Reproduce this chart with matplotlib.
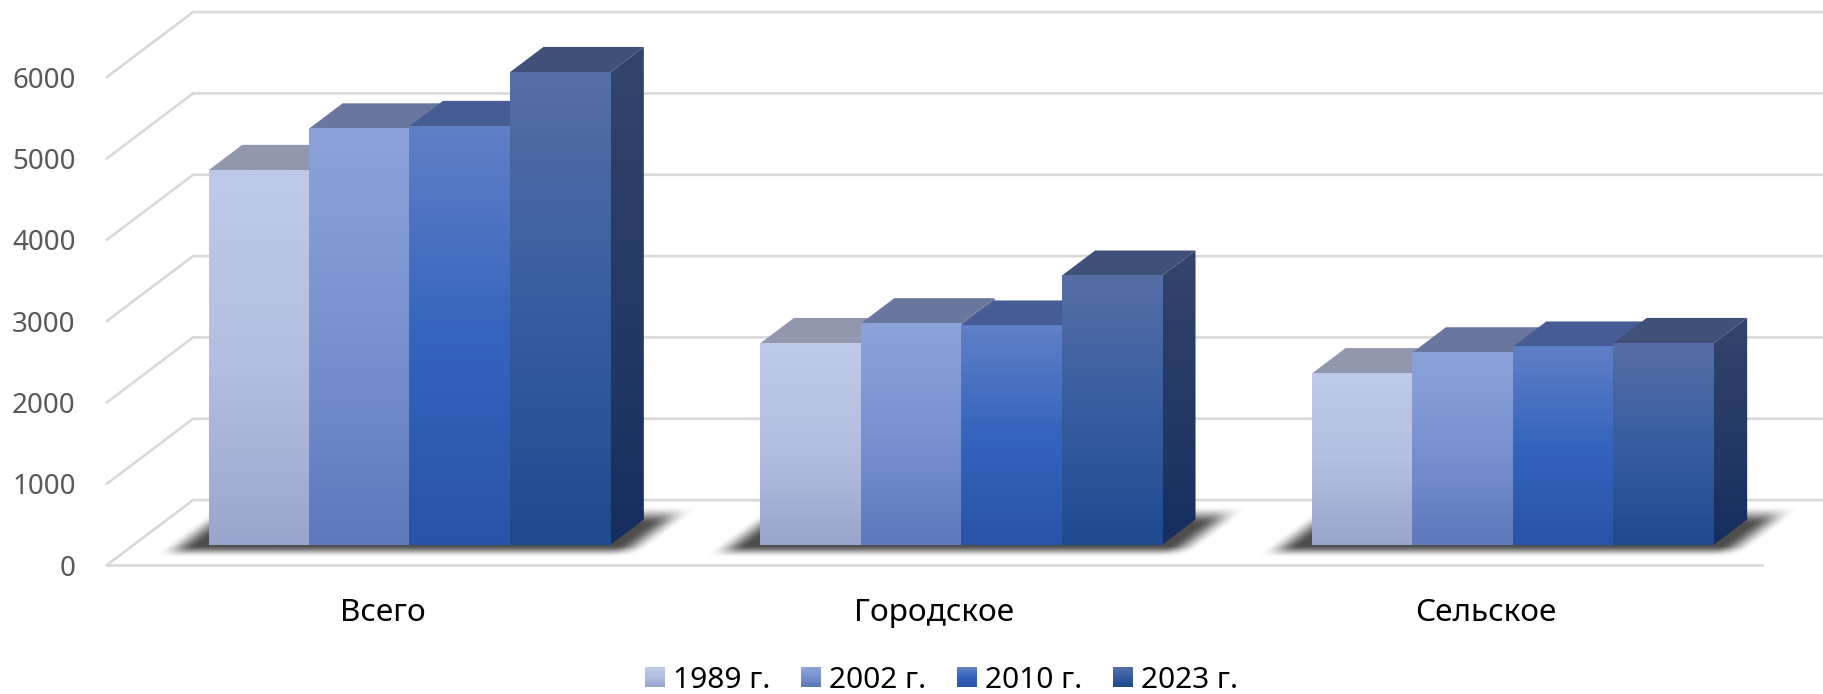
import numpy as np
import matplotlib
matplotlib.use("Agg")
import matplotlib.pyplot as plt
from matplotlib.colors import to_rgb, LinearSegmentedColormap
from matplotlib.legend_handler import HandlerBase
from matplotlib.patches import Polygon, Rectangle

plt.rcParams['font.family'] = ['Noto Sans', 'DejaVu Sans']

categories = ['Всего', 'Городское', 'Сельское']
years = ['1989 г.', '2002 г.', '2010 г.', '2023 г.']
val_1989 = [4607, 2479, 2108]
val_2002 = [5118, 2722, 2365]
val_2010 = [5148, 2694, 2436]
val_2023 = [5811, 3308, 2479]
series = [val_1989, val_2002, val_2010, val_2023]

# gradient stops of the front faces, top colour of the roof and of the side
front_cols = [['#bfcae8', '#b4bfe1', '#9aa5cd'],
              ['#8da2da', '#7892d0', '#5d78bb'],
              ['#6080c6', '#3564bd', '#2953a8'],
              ['#566ea6', '#365d9f', '#1f4a90']]
roof_cols = ['#9197ad', '#69779f', '#475c94', '#3f5079']
side_cols = [['#7a84a0', '#5f6a8c'], ['#5c6c96', '#3f4f7c'],
             ['#3c4f84', '#1f3a70'], ['#34456d', '#162e5f']]

# oblique projection, in data units
DX = 0.1559
DY = 798
D0 = 0.31
D1 = 0.70
BAR_W = 0.182

fig = plt.figure(figsize=(18.24, 6.94), dpi=100)
ax = fig.add_axes([107 / 1824, 1 - 565 / 694, 1655 / 1824, 488 / 694])
ax.set_xlim(-0.5, 2.5)
ax.set_ylim(0, 6000)
for s in ax.spines.values():
    s.set_visible(False)


def make_cmap(cols):
    return LinearSegmentedColormap.from_list('g', [to_rgb(c) for c in cols])


def grad(cols, extent, zorder):
    g = np.linspace(0, 1, 256).reshape(-1, 1)
    return ax.imshow(g, cmap=make_cmap(cols), extent=extent, aspect='auto',
                     origin='upper', zorder=zorder, clip_on=False,
                     interpolation='bilinear')


# walls and floor
grid_c = '#d9d9d9'
for v in range(0, 7000, 1000):
    ax.plot([-0.5, -0.5 + DX, 2.5 + DX], [v, v + DY, v + DY], color=grid_c,
            lw=1.9, clip_on=False, zorder=1, solid_joinstyle='miter')
ax.plot([-0.5, 2.5], [0, 0], color=grid_c, lw=1.9, clip_on=False, zorder=1)


def shadow(i):
    # soft shadow on the floor, worked out in pixels of the sheared footprint
    px_x = 1655 / 3
    px_y = 488 / 6000
    x0 = i + D0 * DX - 2 * BAR_W
    nx, ny = 600, 90
    xs = np.linspace(-80, 520, nx)
    ss = np.linspace(60, -30, ny)
    xx, yy = np.meshgrid(xs, ss)
    xsh = xx - 1.33 * yy

    def soft(a, w):
        t = np.clip(a / w, 0, 1)
        return t * t * (3 - 2 * t)

    alpha = soft(xsh + 44, 34) * soft(444 - xsh, 34) * soft(yy + 13, 13) * soft(40 - yy, 20)
    rgba = np.zeros((ny, nx, 4))
    rgba[..., 3] = alpha * 0.7
    ext = (x0 + xs[0] / px_x, x0 + xs[-1] / px_x,
           D0 * DY + ss[-1] / px_y, D0 * DY + ss[0] / px_y)
    ax.imshow(rgba, extent=ext, aspect='auto', origin='upper', zorder=2,
              clip_on=False, interpolation='bilinear')


zo = 3
for i in range(len(categories)):
    shadow(i)
    for j, vals in enumerate(series):
        v = vals[i]
        x0 = i + D0 * DX - 2 * BAR_W + j * BAR_W
        x1 = x0 + BAR_W
        y0 = D0 * DY
        y1 = y0 + v
        ox = (D1 - D0) * DX
        oy = (D1 - D0) * DY
        # side face
        side = Polygon([(x1, y0), (x1 + ox, y0 + oy), (x1 + ox, y1 + oy), (x1, y1)],
                       closed=True, transform=ax.transData, fc='none', ec='none')
        ax.add_patch(side)
        im = grad(side_cols[j], (x1, x1 + ox, y0, y1 + oy), zo)
        im.set_clip_on(True)
        im.set_clip_box(fig.bbox)
        im.set_clip_path(side)
        # roof
        ax.add_patch(Polygon([(x0, y1), (x0 + ox, y1 + oy), (x1 + ox, y1 + oy), (x1, y1)],
                             closed=True, fc=roof_cols[j], ec='none', zorder=zo + 0.1,
                             clip_on=False))
        # front
        grad(front_cols[j], (x0, x1, y0, y1), zo + 0.2)
        zo += 1

ax.set_xlim(-0.5, 2.5)
ax.set_ylim(0, 6000)
ax.set_xticks(range(len(categories)))
ax.set_xticklabels(categories, fontsize=22.7, color='black')
ax.set_yticks(range(0, 7000, 1000))
ax.tick_params(axis='x', length=0, pad=24)
ax.tick_params(axis='y', length=0, pad=22.5, labelsize=20, labelcolor='#595959')


class GradHandler(HandlerBase):
    def __init__(self, cols):
        super().__init__()
        self.cols = cols

    def create_artists(self, legend, orig, xd, yd, w, h, fs, trans):
        cm = make_cmap(self.cols)
        out = []
        n = 12
        side = 14.4
        y_base = -yd + (h - side) / 2
        for k in range(n):
            r = Rectangle((-xd, y_base + side - (k + 1) * side / n), w, side / n + 0.2,
                          fc=cm(k / (n - 1)), ec='none', transform=trans)
            out.append(r)
        return out


handles = [Rectangle((0, 0), 1, 1, label=y) for y in years]
ax.legend(handles, years, ncol=4, loc='center', frameon=False, fontsize=21.5,
          bbox_to_anchor=(941.5 / 1824, 1 - 680 / 694), bbox_transform=fig.transFigure,
          handlelength=0.67, handleheight=0.67, handletextpad=0.25, columnspacing=1.05,
          borderpad=0, borderaxespad=0,
          handler_map={h: GradHandler(c) for h, c in zip(handles, front_cols)})

fig.savefig('out.png', dpi=100)
